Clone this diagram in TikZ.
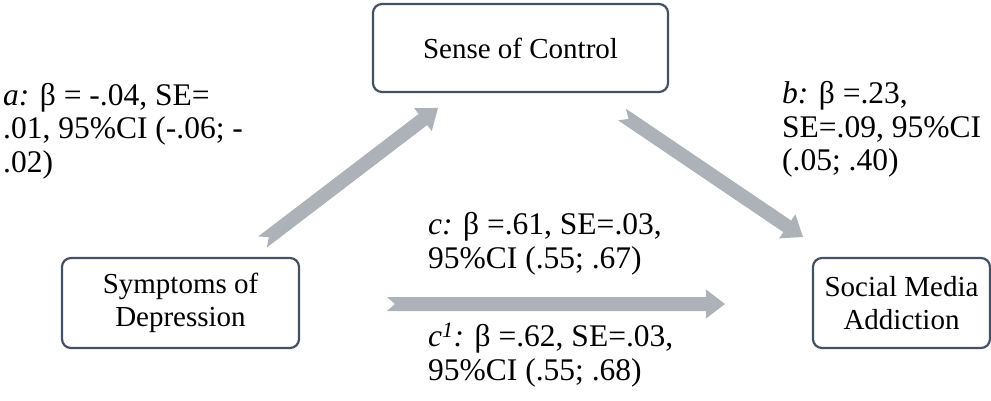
\documentclass[tikz,border=0pt]{standalone}
\usepackage{fontspec}
\setmainfont{Liberation Serif}
\usetikzlibrary{calc}
\definecolor{arrowgray}{RGB}{173,177,184}
\definecolor{boxline}{RGB}{68,80,100}
\newcommand\blockarrow[2]{%
  \coordinate (ba-h) at ($(#2)!19pt!(#1)$);
  \coordinate (ba-n) at ($(#1)!8pt!(#2)$);
  \fill[arrowgray] ($(#1)!7pt!90:(#2)$) -- (ba-n) -- ($(#1)!7pt!-90:(#2)$)
    -- ($(ba-h)!7pt!-90:(#2)$) -- ($(ba-h)!14.5pt!-90:(#2)$) -- (#2)
    -- ($(ba-h)!14.5pt!90:(#2)$) -- ($(ba-h)!7pt!90:(#2)$) -- cycle;
}
\tikzset{
  varbox/.style={draw=boxline, line width=2.2pt, rounded corners=9pt, fill=white,
    align=center, inner sep=0pt, font=\fontsize{29}{33}\selectfont},
  stat/.style={anchor=base west, align=left, inner sep=0pt,
    font=\fontsize{31.5}{33.5}\selectfont}
}
\begin{document}
\begin{tikzpicture}[x=1pt,y=-1pt]
\useasboundingbox (0,0) rectangle (991,401);
\node[varbox, minimum width=295pt, minimum height=88pt] (soc) at (520.5,48) {Sense of Control};
\node[varbox, minimum width=237pt, minimum height=90pt] (sod) at (180.5,303) {Symptoms of\\Depression};
\node[varbox, minimum width=177pt, minimum height=90pt] (sma) at (901.5,303) {Social Media\\Addiction};

\coordinate (aT) at (262.5,242);
\coordinate (aH) at (438,108);
\coordinate (bT) at (622,114.5);
\coordinate (bH) at (803,237);
\coordinate (cT) at (387,304);
\coordinate (cH) at (725,304);
\blockarrow{aT}{aH}
\blockarrow{bT}{bH}
\blockarrow{cT}{cH}

\node[stat] (la) at (3,172) {\textit{a:} β = -.04, SE=\\.01, 95\%CI (-.06; -\\.02)};
\node[stat] (lb) at (782,171) {\textit{b:} β =.23,\\SE=.09, 95\%CI\\(.05; .40)};
\node[stat] (lc) at (428,268) {\textit{c:} β =.61, SE=.03,\\95\%CI (.55; .67)};
\node[stat] (lc1) at (428,380) {\textit{c\textsuperscript{1}:} β =.62, SE=.03,\\95\%CI (.55; .68)};
\end{tikzpicture}
\end{document}
